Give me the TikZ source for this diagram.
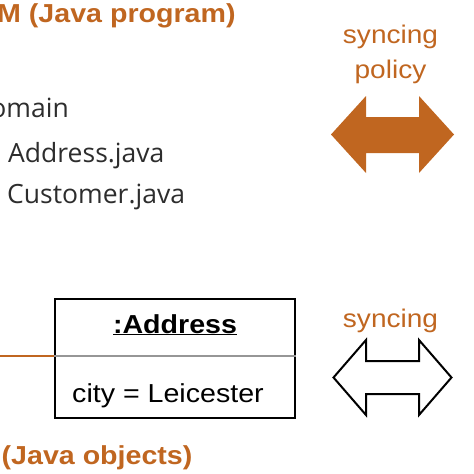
\documentclass[tikz,border=0pt]{standalone}
\usepackage{fontspec}
\setmainfont[FakeStretch=1.1]{Liberation Sans}
\newfontfamily\explorerfont{Open Sans}
\usetikzlibrary{calc}
\definecolor{syncorange}{RGB}{192,102,32}
\definecolor{filegrey}{RGB}{45,45,45}
\definecolor{splitgrey}{RGB}{150,150,150}
\tikzset{
  heading/.style={inner sep=0pt, text=syncorange,
    font=\fontsize{26}{30}\selectfont\bfseries},
  tag/.style={inner sep=0pt, text=syncorange, align=center,
    font=\fontsize{25.5}{35}\selectfont},
  filename/.style={inner sep=0pt, text=filegrey,
    font=\explorerfont\fontsize{26.5}{30}\selectfont},
  objbox/.style={rectangle, draw=black, line width=2.5pt,
    minimum width=240pt, minimum height=119pt},
  boxtext/.style={inner sep=0pt, font=\fontsize{26}{30}\selectfont},
  link/.style={draw=syncorange, line width=2pt}
}

\begin{document}
\begin{tikzpicture}[x=1pt, y=-1pt]
\useasboundingbox (0,0) rectangle (474,474);

%% Top: program side
\node[heading, anchor=base west] (progtitle) at (-3,22.5) {M (Java program)};
\node[filename, anchor=base east] (pkg)  at (69,117) {domain};
\node[filename, anchor=base west] (addrfile) at (8,162) {Address.java};
\node[filename, anchor=base west] (custfile) at (7,203) {Customer.java};

%% Top: syncing policy (filled double arrow)
\node[tag, anchor=base] (policylabel) at (390.5,78) {syncing\\policy};
\fill[syncorange] (331,134.5) -- (366,96) -- (366,117) -- (419,117)
  -- (419,96) -- (454,134.5) -- (419,173) -- (419,153) -- (366,153)
  -- (366,173) -- cycle;

%% Bottom: object side
\node[objbox] (addr) at (175,358.5) {};
\node[boxtext, anchor=base] (addrname) at (175,333) {\bfseries\underline{:Address}};
\node[boxtext, anchor=base west] (addrcity) at (72,402) {city = Leicester};
\draw[draw=splitgrey, line width=2pt] (addr.west |- 0,356) -- (addr.east |- 0,356);
\coordinate (linkend) at (-5,356);
\draw[link] (linkend) -- (addr.west |- 0,356);
\node[heading, anchor=base west] (objtitle) at (1.5,464.5) {(Java objects)};

%% Bottom: syncing (outlined double arrow)
\node[tag, anchor=base] (synclabel) at (390.5,327) {syncing};
\draw[line width=2pt, fill=white] (333.5,377.5) -- (366,340) -- (366,361)
  -- (419,361) -- (419,340) -- (451.5,377.5) -- (419,415) -- (419,394)
  -- (366,394) -- (366,415) -- cycle;

\end{tikzpicture}
\end{document}
